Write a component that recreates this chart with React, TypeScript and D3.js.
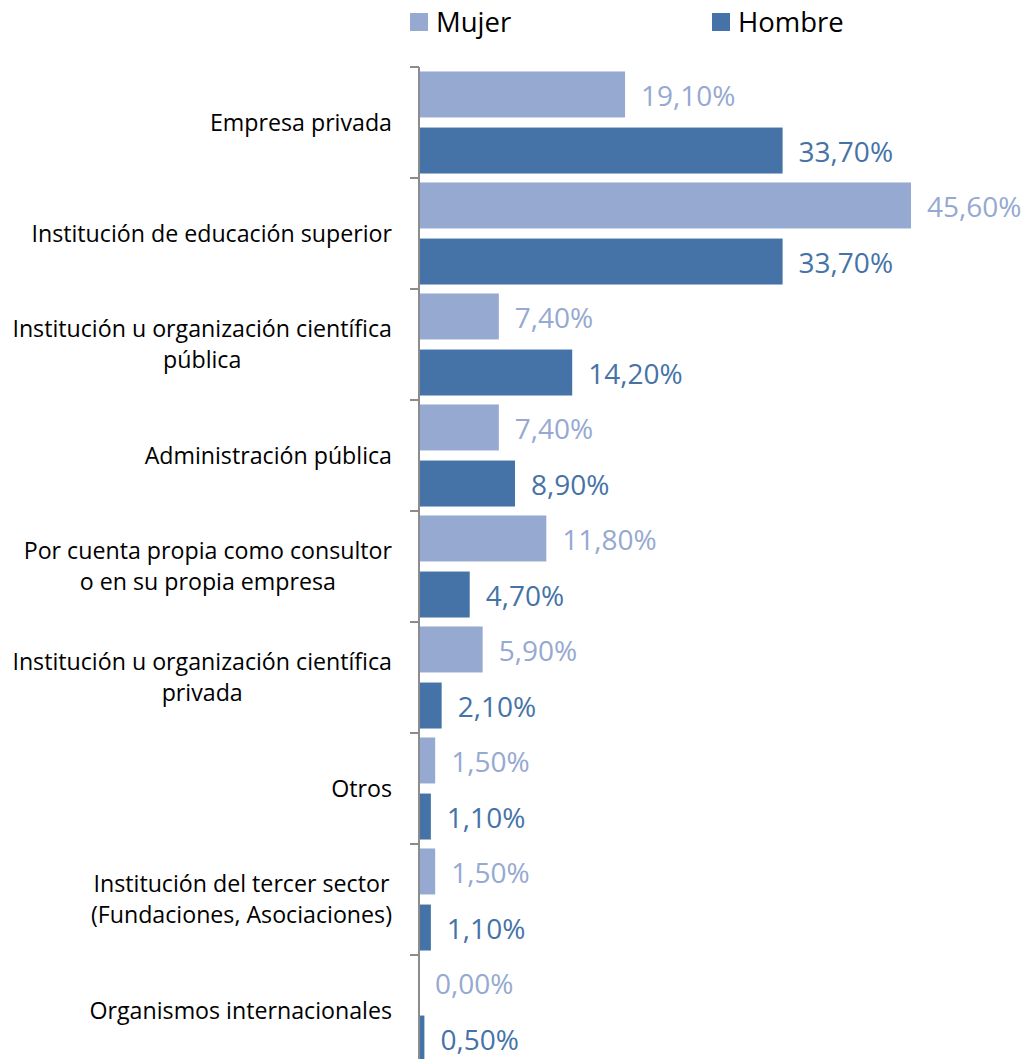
import React, { useEffect, useRef } from "react";
import * as d3 from "d3";

const categories: string[][] = [
  ["Empresa privada"],
  ["Institución de educación superior"],
  ["Institución u organización científica", "pública"],
  ["Administración pública"],
  ["Por cuenta propia como consultor", "o en su propia empresa"],
  ["Institución u organización científica", "privada"],
  ["Otros"],
  ["Institución del tercer sector", "(Fundaciones, Asociaciones)"],
  ["Organismos internacionales"],
];
const mujer = [19.1, 45.6, 7.4, 7.4, 11.8, 5.9, 1.5, 1.5, 0.0];
const hombre = [33.7, 33.7, 14.2, 8.9, 4.7, 2.1, 1.1, 1.1, 0.5];
const seriesNames = ["Mujer", "Hombre"];
const seriesColors = ["#95A9D1", "#4573A7"];

const W = 1025;
const H = 1059;
const FONT = "'Open Sans', 'DejaVu Sans', sans-serif";

export default function App() {
  const ref = useRef<SVGSVGElement>(null);

  useEffect(() => {
    document.body.style.margin = "0";
    const svg = d3.select(ref.current);
    svg.selectAll("*").remove();

    const axisX = 419;
    const x = d3.scaleLinear().domain([0, 45.6]).range([axisX, 911]);
    const y = d3
      .scaleBand<number>()
      .domain(d3.range(categories.length))
      .range([67, 67 + 111 * categories.length])
      .paddingInner(0)
      .paddingOuter(0);
    const ys = d3
      .scaleBand<string>()
      .domain(seriesNames)
      .range([0, y.bandwidth()])
      .paddingInner(0.18)
      .paddingOuter(0.08);

    const values = [mujer, hombre];

    // bars
    seriesNames.forEach((s, si) => {
      const g = svg.append("g");
      g.selectAll("rect")
        .data(values[si])
        .join("rect")
        .attr("x", axisX)
        .attr("y", (_, i) => (y(i) as number) + (ys(s) as number))
        .attr("width", (d) => x(d) - axisX)
        .attr("height", ys.bandwidth())
        .attr("fill", seriesColors[si]);
      g.selectAll("text")
        .data(values[si])
        .join("text")
        .attr("x", (d) => x(d) + 16)
        .attr("y", (_, i) => (y(i) as number) + (ys(s) as number) + ys.bandwidth() / 2 + 2)
        .attr("dy", "0.35em")
        .attr("fill", seriesColors[si])
        .style("font-family", FONT)
        .style("font-size", "28px")
        .text((d) => d.toFixed(2).replace(".", ",") + "%");
    });

    // axis
    const ax = svg.append("g").attr("stroke", "#8C8C8C").attr("stroke-width", 2);
    ax.append("line").attr("x1", axisX).attr("x2", axisX).attr("y1", 67).attr("y2", H);
    const ticks = d3.range(categories.length + 1).map((i) => 67 + 111 * i);
    ax.selectAll("line.t")
      .data(ticks)
      .join("line")
      .attr("class", "t")
      .attr("x1", axisX - 9)
      .attr("x2", axisX)
      .attr("y1", (d) => d)
      .attr("y2", (d) => d);

    // category labels
    const labelRight = 392;
    const lineH = 31;
    categories.forEach((lines, i) => {
      const cy = (y(i) as number) + y.bandwidth() / 2;
      const g = svg.append("g");
      const texts = lines.map((ln, li) =>
        g
          .append("text")
          .attr("y", cy + (li - (lines.length - 1) / 2) * lineH)
          .attr("dy", "0.35em")
          .attr("text-anchor", "middle")
          .attr("fill", "#000")
          .style("font-family", FONT)
          .style("font-size", "23.2px")
          .text(ln)
      );
      const maxW = d3.max(texts, (t) => (t.node() as SVGTextElement).getComputedTextLength()) || 0;
      texts.forEach((t) => t.attr("x", labelRight - maxW / 2));
    });

    // legend
    const legX = [410, 712];
    seriesNames.forEach((s, si) => {
      svg
        .append("rect")
        .attr("x", legX[si])
        .attr("y", 13)
        .attr("width", 18)
        .attr("height", 18)
        .attr("fill", seriesColors[si]);
      svg
        .append("text")
        .attr("x", legX[si] + 26)
        .attr("y", 22)
        .attr("dy", "0.35em")
        .attr("fill", "#000")
        .style("font-family", FONT)
        .style("font-size", "27.5px")
        .text(s);
    });
  }, []);

  return <svg ref={ref} width={W} height={H} style={{ display: "block" }} />;
}
